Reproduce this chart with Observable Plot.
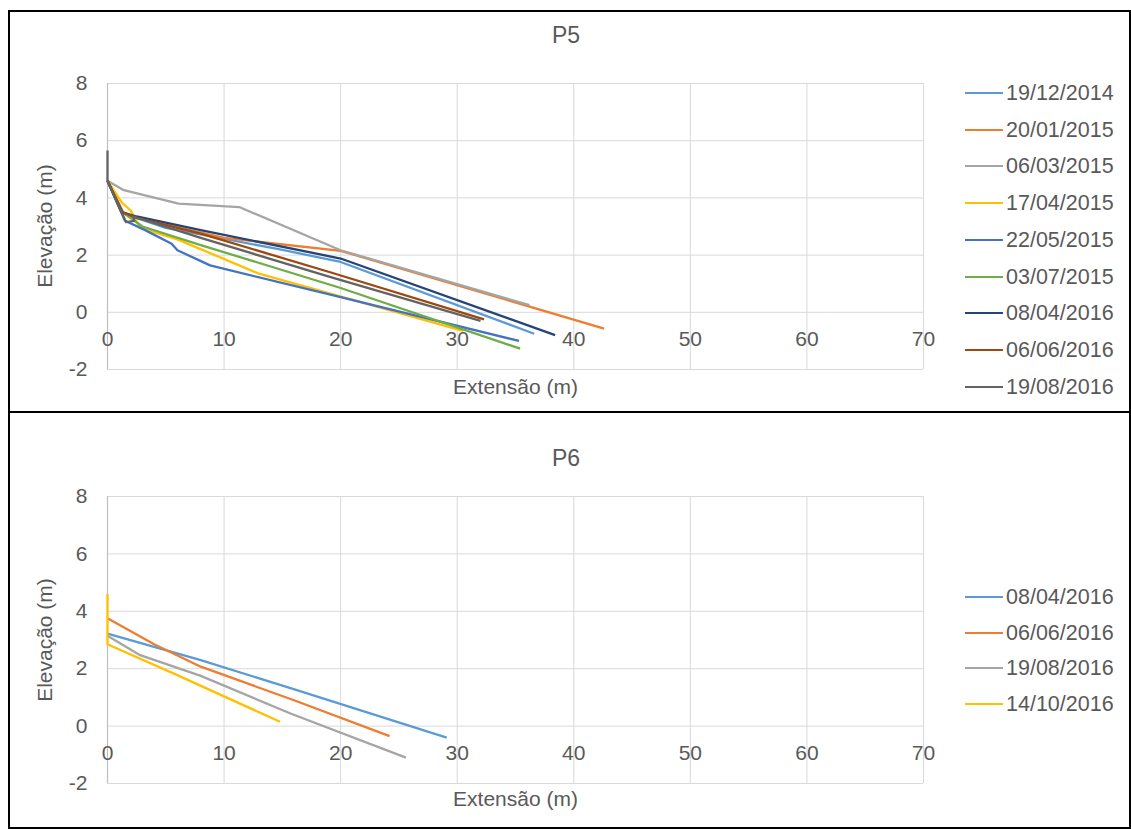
<!DOCTYPE html>
<html>
<head>
<meta charset="utf-8">
<script src="https://cdn.jsdelivr.net/npm/d3@7"></script>
<script src="https://cdn.jsdelivr.net/npm/@observablehq/plot@0.6"></script>
<style>
  html, body { margin: 0; padding: 0; background: #fff; }
  body { width: 1131px; height: 829px; position: relative; overflow: hidden;
         font-family: "Liberation Sans", Arial, sans-serif; color: #595959; }
  .box { position: absolute; border: 2.5px solid #000; box-sizing: border-box; pointer-events: none; }
  .title { position: absolute; font-size: 23px; transform: translate(-50%, -50%); white-space: nowrap; }
  .ylab { position: absolute; font-size: 21px; transform: translate(-50%, -50%) rotate(-90deg); white-space: nowrap; }
  .leg { position: absolute; left: 965px; height: 26px; font-size: 21.5px; display: flex; align-items: center; white-space: nowrap; }
  .leg .sw { width: 38px; height: 2px; margin-right: 3px; }
</style>
</head>
<body>
<div id="app"></div>
<script>
// ---------- data ----------
const xTicks = [0, 10, 20, 30, 40, 50, 60, 70];
const yTicks = [-2, 0, 2, 4, 6, 8];
const palette = ["#5B9BD5", "#ED7D31", "#A5A5A5", "#FFC000", "#4472C4", "#70AD47", "#264478", "#9E480E", "#636363"];

// P5
const p5Dates = ["19/12/2014", "20/01/2015", "06/03/2015", "17/04/2015", "22/05/2015", "03/07/2015", "08/04/2016", "06/06/2016", "19/08/2016"];
const p5_191214_x = [0, 1.4, 5, 14.8, 20, 36.6];
const p5_191214_y = [4.6, 3.45, 2.95, 2.2, 1.76, -0.75];
const p5_200115_x = [0, 1.3, 2.5, 10, 20, 42.6];
const p5_200115_y = [4.6, 3.5, 3.3, 2.6, 2.15, -0.57];
const p5_060315_x = [0, 1.4, 6.1, 11.3, 20, 36.2];
const p5_060315_y = [4.6, 4.27, 3.8, 3.68, 2.17, 0.25];
const p5_170415_x = [0, 1.2, 2.0, 2.8, 6, 13, 30.5];
const p5_170415_y = [4.6, 3.85, 3.55, 2.95, 2.55, 1.35, -0.65];
const p5_220515_x = [0, 1.5, 3.1, 5.5, 6.0, 8.8, 20, 35.3];
const p5_220515_y = [4.6, 3.2, 2.9, 2.4, 2.17, 1.64, 0.53, -1.0];
const p5_030715_x = [0, 1.3, 3, 8, 20, 35.4];
const p5_030715_y = [4.6, 3.5, 3.0, 2.35, 0.85, -1.27];
const p5_080416_x = [0, 1.2, 2.5, 8, 20, 38.4];
const p5_080416_y = [4.6, 3.5, 3.35, 2.87, 1.88, -0.8];
const p5_060616_x = [0, 1.3, 2.5, 8, 19.1, 32.3];
const p5_060616_y = [4.6, 3.5, 3.3, 2.75, 1.4, -0.25];
const p5_190816_x = [0, 0, 1.2, 1.6, 2.3, 2.2, 8, 19, 32];
const p5_190816_y = [5.66, 4.6, 3.5, 3.15, 3.2, 3.35, 2.6, 1.25, -0.3];

// P6
const p6Dates = ["08/04/2016", "06/06/2016", "19/08/2016", "14/10/2016"];
const p6_080416_x = [0, 8, 15.7, 29.1];
const p6_080416_y = [3.22, 2.3, 1.32, -0.4];
const p6_060616_x = [0, 4, 8, 16, 24.2];
const p6_060616_y = [3.76, 2.85, 2.07, 0.9, -0.35];
const p6_190816_x = [0, 2.8, 8, 15.7, 25.6];
const p6_190816_y = [3.15, 2.47, 1.75, 0.44, -1.1];
const p6_141016_x = [0, 0, 1.4, 5.7, 14.8];
const p6_141016_y = [4.6, 2.85, 2.6, 1.83, 0.15];

// ---------- build tables ----------
function table(dates, xs, ys) {
  const rows = [];
  dates.forEach((d, i) => xs[i].forEach((x, j) => rows.push({date: d, x, y: ys[i][j]})));
  return rows;
}
const p5 = table(p5Dates,
  [p5_191214_x, p5_200115_x, p5_060315_x, p5_170415_x, p5_220515_x, p5_030715_x, p5_080416_x, p5_060616_x, p5_190816_x],
  [p5_191214_y, p5_200115_y, p5_060315_y, p5_170415_y, p5_220515_y, p5_030715_y, p5_080416_y, p5_060616_y, p5_190816_y]);
const p6 = table(p6Dates,
  [p6_080416_x, p6_060616_x, p6_190816_x, p6_141016_x],
  [p6_080416_y, p6_060616_y, p6_190816_y, p6_141016_y]);

const app = document.getElementById("app");
const font = '"Liberation Sans", Arial, sans-serif';
const fs = 21;

function panel(data, dates, top, height, mTop, mBottom, xLabelDy) {
  const chart = Plot.plot({
    width: 950, height,
    marginLeft: 107, marginRight: 27, marginTop: mTop, marginBottom: mBottom,
    style: {fontFamily: font, color: "#595959", background: "transparent", overflow: "visible"},
    x: {domain: [0, 70], axis: null},
    y: {domain: [-2, 8], axis: null},
    color: {domain: dates, range: palette.slice(0, dates.length)},
    marks: [
      Plot.ruleX(xTicks, {x: d => d, stroke: "#d9d9d9", strokeWidth: 1}),
      Plot.ruleY(yTicks, {y: d => d, stroke: "#d9d9d9", strokeWidth: 1}),
      Plot.ruleX([0], {stroke: "#bfbfbf", strokeWidth: 1.2}),
      Plot.line(data, {x: "x", y: "y", z: "date", stroke: "date", strokeWidth: 2.3, strokeLinejoin: "round", strokeLinecap: "butt"}),
      Plot.text(xTicks, {x: d => d, frameAnchor: "bottom", dy: -30, text: d => String(d), fontSize: fs, fill: "#595959", lineAnchor: "middle"}),
      Plot.text(yTicks, {y: d => d, frameAnchor: "left", dx: -20, text: d => String(d), textAnchor: "end", fontSize: fs, fill: "#595959"}),
      Plot.text(["Extensão (m)"], {frameAnchor: "bottom", dy: xLabelDy, fontSize: fs, fill: "#595959"})
    ]
  });
  chart.style.position = "absolute";
  chart.style.left = "0px";
  chart.style.top = top + "px";
  app.appendChild(chart);
}

panel(p5, p5Dates, 0, 412, 83, 43, 24);
panel(p6, p6Dates, 412, 417, 84, 46, 22);

function addDiv(cls, style, text) {
  const d = document.createElement("div");
  d.className = cls;
  Object.assign(d.style, style);
  if (text != null) d.textContent = text;
  app.appendChild(d);
  return d;
}
// titles
addDiv("title", {left: "566px", top: "35px"}, "P5");
addDiv("title", {left: "566px", top: "458px"}, "P6");
// y axis titles
addDiv("ylab", {left: "45px", top: "226px"}, "Elevação (m)");
addDiv("ylab", {left: "45px", top: "640px"}, "Elevação (m)");

// legends
function legend(dates, y0, step) {
  dates.forEach((d, i) => {
    const row = addDiv("leg", {top: Math.round(y0 + i * step - 13) + "px"});
    const sw = document.createElement("div");
    sw.className = "sw";
    sw.style.background = palette[i];
    row.appendChild(sw);
    const t = document.createElement("span");
    t.textContent = d;
    row.appendChild(t);
  });
}
legend(p5Dates, 93, 36.7);
legend(p6Dates, 597, 35.7);

// borders
addDiv("box", {left: "8px", top: "10px", width: "1123px", height: "403px"});
addDiv("box", {left: "8px", top: "411px", width: "1123px", height: "418px"});
</script>
</body>
</html>
